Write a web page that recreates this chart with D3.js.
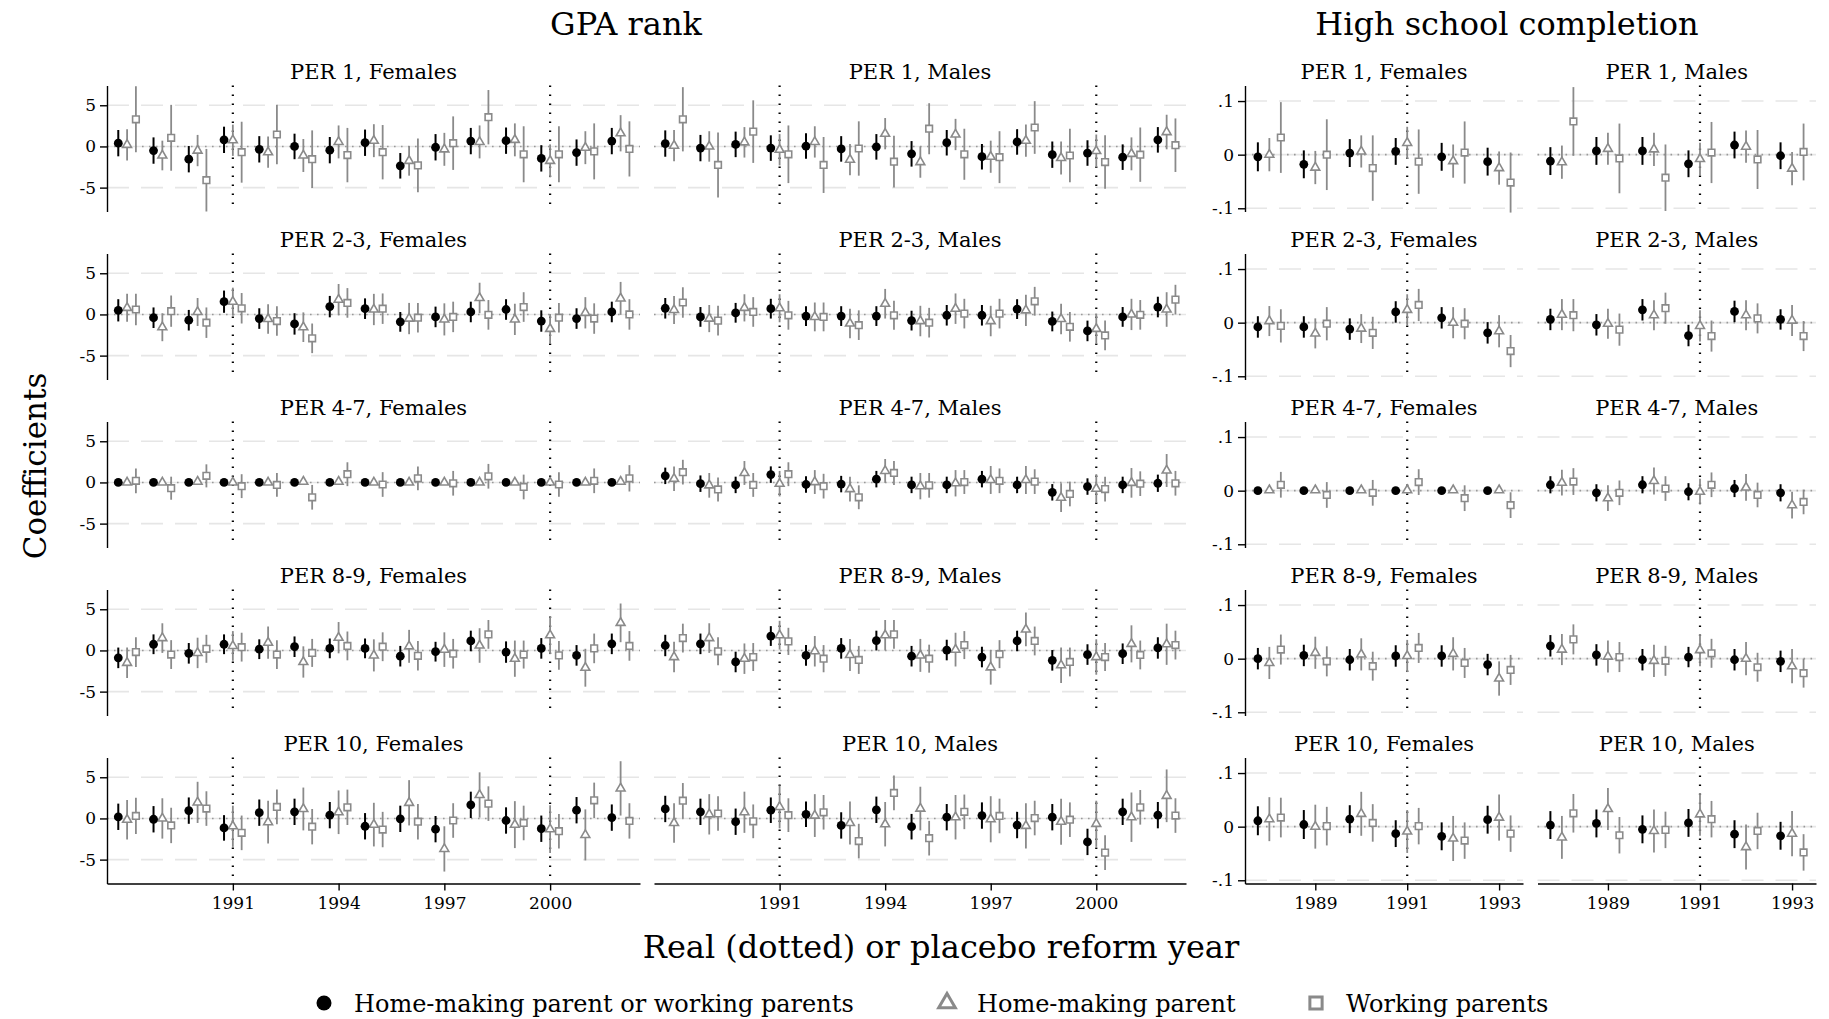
<!DOCTYPE html>
<html>
<head>
<meta charset="utf-8">
<script src="https://cdn.jsdelivr.net/npm/d3@7"></script>
<style>
    body { margin: 0; background: #fff; }
    text { font-family: "DejaVu Serif", serif; fill: #000; }
</style>
</head>
<body>
<div id="chart"></div>
<script>
// ---- categories / ticks ----
var groups = ["PER 1", "PER 2-3", "PER 4-7", "PER 8-9", "PER 10"];
var sexes = ["Females", "Males"];
var seriesNames = ["Home-making parent or working parents", "Home-making parent", "Working parents"];
var gpaYears = [1988, 1989, 1990, 1991, 1992, 1993, 1994, 1995, 1996, 1997, 1998, 1999, 2000, 2001, 2002];
var hsYears = [1988, 1989, 1990, 1991, 1992, 1993];
var gpaXTicks = [1991, 1994, 1997, 2000];
var hsXTicks = [1989, 1991, 1993];
var gpaReforms = [1991, 2000];
var hsReforms = [1991];
var gpaYTicks = [-5, 0, 5];
var hsYTicks = [-0.1, 0, 0.1];

// ---- GPA rank: estimates and CI half-widths, rows = [both, home-making, working] ----
var gpa_per1_f_est = [
    [0.4, -0.5, -1.55, 0.8, -0.35, 0, -0.45, 0.45, -2.35, -0.1, 0.65, 0.7, -1.45, -0.75, 0.65],
    [0.2, -1.1, -0.5, 0.75, -0.7, -1.1, 0.55, 0.7, -1.75, -0.35, 0.55, 0.8, -1.75, -0.15, 1.6],
    [3.3, 1.05, -4.1, -0.7, 1.45, -1.55, -1.05, -0.7, -2.3, 0.4, 3.55, -0.95, -0.95, -0.6, -0.3]];
var gpa_per1_f_ci = [
    [1.6, 1.6, 1.6, 1.6, 1.6, 1.55, 1.6, 1.6, 1.55, 1.6, 1.6, 1.6, 1.6, 1.6, 1.6],
    [1.9, 1.8, 1.9, 1.9, 1.9, 2.0, 2.0, 2.0, 1.8, 2.0, 2.0, 2.0, 2.0, 2.0, 2.2],
    [4.0, 4.0, 3.8, 3.7, 3.6, 3.5, 3.3, 3.3, 3.25, 3.25, 3.3, 3.4, 3.4, 3.4, 3.35]];
var gpa_per1_m_est = [
    [0.35, -0.2, 0.25, -0.2, 0.05, -0.3, -0.05, -0.9, 0.45, -1.25, 0.55, -1.0, -0.8, -1.3, 0.8],
    [0.1, 0, 0.5, -0.4, 0.55, -1.6, 1.55, -1.9, 1.45, -1.25, 0.7, -1.4, -0.55, -0.9, 1.75],
    [3.3, -2.25, 1.8, -0.95, -2.25, -0.25, -1.85, 2.15, -0.95, -1.3, 2.3, -1.1, -1.9, -1.0, 0.15]];
var gpa_per1_m_ci = [
    [1.6, 1.6, 1.55, 1.55, 1.55, 1.55, 1.55, 1.55, 1.55, 1.55, 1.55, 1.6, 1.55, 1.55, 1.55],
    [1.9, 1.85, 1.85, 1.9, 1.9, 1.9, 1.9, 1.9, 1.9, 1.95, 1.95, 2.0, 2.0, 2.0, 2.1],
    [3.9, 3.95, 3.8, 3.5, 3.4, 3.3, 3.15, 3.1, 3.1, 3.15, 3.2, 3.25, 3.25, 3.3, 3.25]];
var gpa_per23_f_est = [
    [0.5, -0.4, -0.7, 1.55, -0.5, -1.15, 0.95, 0.7, -0.9, -0.3, 0.3, 0.6, -0.8, -0.5, 0.3],
    [0.8, -1.55, 0.3, 1.55, -0.55, -1.55, 1.8, 0.6, -0.5, -0.6, 2.0, -0.6, -1.75, 0.2, 1.95],
    [0.6, 0.4, -1.0, 0.75, -0.8, -2.9, 1.4, 0.7, -0.4, -0.3, -0.05, 0.9, -0.4, -0.5, 0]];
var gpa_per23_f_ci = [
    [1.35, 1.25, 1.25, 1.35, 1.25, 1.3, 1.3, 1.25, 1.2, 1.25, 1.25, 1.25, 1.3, 1.25, 1.25],
    [1.7, 1.7, 1.7, 1.7, 1.8, 1.8, 1.9, 1.9, 1.9, 1.95, 1.85, 1.9, 1.8, 1.9, 2.0],
    [1.9, 1.9, 1.85, 1.85, 1.8, 1.8, 1.8, 1.85, 1.8, 1.85, 1.8, 1.8, 1.8, 1.85, 1.85]];
var gpa_per23_m_est = [
    [0.75, -0.3, 0.2, 0.7, -0.2, -0.2, -0.2, -0.75, -0.1, -0.1, 0.65, -0.85, -2.0, -0.3, 0.9],
    [0.55, -0.5, 0.8, 0.75, -0.3, -1.1, 1.3, -0.8, 0.7, -0.8, 0.5, -0.55, -1.75, 0, 0.6],
    [1.45, -0.75, 0.3, -0.1, -0.3, -1.3, -0.1, -1.0, 0.1, 0.1, 1.6, -1.5, -2.55, -0.05, 1.8]];
var gpa_per23_m_ci = [
    [1.25, 1.2, 1.2, 1.2, 1.2, 1.2, 1.2, 1.2, 1.25, 1.25, 1.2, 1.2, 1.25, 1.2, 1.25],
    [1.7, 1.65, 1.65, 1.7, 1.75, 1.8, 1.8, 1.85, 1.85, 1.85, 1.9, 1.85, 1.85, 1.9, 2.1],
    [1.85, 1.8, 1.8, 1.75, 1.75, 1.8, 1.75, 1.8, 1.8, 1.8, 1.75, 1.8, 1.8, 1.8, 1.8]];
var gpa_per47_f_est = [
    [0, 0, 0, 0, 0, 0, 0, 0, 0, 0, 0, 0, 0, 0, 0],
    [0, 0, 0.1, 0, 0, 0.1, 0.1, 0, 0, 0, 0, 0, 0, 0, 0.1],
    [0.2, -0.7, 0.8, -0.45, -0.3, -1.8, 1.0, -0.25, 0.5, -0.1, 0.75, -0.55, -0.25, 0.2, 0.5]];
var gpa_per47_f_ci = [
    [0.06, 0.06, 0.06, 0.06, 0.06, 0.06, 0.06, 0.06, 0.06, 0.06, 0.06, 0.06, 0.06, 0.06, 0.06],
    [0.15, 0.15, 0.15, 0.15, 0.15, 0.15, 0.15, 0.15, 0.15, 0.15, 0.15, 0.15, 0.15, 0.15, 0.15],
    [1.5, 1.4, 1.4, 1.45, 1.45, 1.5, 1.45, 1.5, 1.45, 1.5, 1.5, 1.5, 1.5, 1.5, 1.6]];
var gpa_per47_m_est = [
    [0.8, -0.15, -0.3, 0.95, -0.25, -0.2, 0.4, -0.3, -0.3, 0.4, -0.3, -1.2, -0.5, -0.3, -0.1],
    [0.45, -0.35, 1.15, -0.15, 0.05, -0.8, 1.4, -0.45, -0.1, 0.3, 0.3, -1.85, -0.75, -0.05, 1.45],
    [1.25, -0.85, -0.3, 1.0, -0.45, -1.8, 1.15, -0.35, 0.05, 0.2, 0.1, -1.4, -0.8, -0.15, -0.1]];
var gpa_per47_m_ci = [
    [1.0, 1.0, 1.0, 1.0, 1.0, 1.0, 1.0, 1.0, 1.0, 1.0, 1.0, 1.0, 1.0, 1.0, 1.05],
    [1.5, 1.5, 1.45, 1.55, 1.45, 1.5, 1.45, 1.6, 1.6, 1.7, 1.7, 1.75, 1.75, 1.8, 2.0],
    [1.5, 1.45, 1.45, 1.45, 1.5, 1.45, 1.45, 1.5, 1.45, 1.5, 1.5, 1.5, 1.5, 1.5, 1.5]];
var gpa_per89_f_est = [
    [-0.9, 0.75, -0.35, 0.75, 0.15, 0.45, 0.25, 0.25, -0.7, -0.15, 1.15, -0.2, 0.25, -0.6, 0.8],
    [-1.5, 1.5, -0.3, 0.55, 0.95, -1.4, 1.55, -0.6, 0.5, 0.1, 0.6, -1.0, 1.85, -2.1, 3.35],
    [-0.2, -0.5, 0.2, 0.4, -0.5, -0.3, 0.55, 0.45, -0.65, -0.4, 1.95, -0.5, -0.6, 0.25, 0.55]];
var gpa_per89_f_ci = [
    [1.25, 1.2, 1.25, 1.2, 1.2, 1.25, 1.2, 1.2, 1.25, 1.2, 1.25, 1.3, 1.25, 1.25, 1.25],
    [1.85, 1.8, 1.85, 1.8, 1.95, 1.9, 1.9, 1.95, 2.0, 2.1, 2.1, 2.2, 2.3, 2.3, 2.35],
    [1.8, 1.75, 1.7, 1.75, 1.75, 1.7, 1.75, 1.75, 1.8, 1.8, 1.75, 1.7, 1.75, 1.8, 1.8]];
var gpa_per89_m_est = [
    [0.6, 0.8, -1.4, 1.75, -0.6, 0.25, 1.2, -0.7, 0.05, -0.8, 1.15, -1.2, -0.5, -0.4, 0.3],
    [-0.8, 1.5, -1.0, 1.85, -0.1, -0.55, 1.85, -0.6, 0.1, -2.05, 2.55, -1.8, -0.8, 0.8, 0.75],
    [1.5, -0.1, -0.8, 1.1, -1.0, -1.15, 1.95, -1.0, 0.65, -0.45, 1.15, -1.4, -0.8, -0.55, 0.65]];
var gpa_per89_m_ci = [
    [1.3, 1.25, 1.25, 1.2, 1.25, 1.25, 1.2, 1.25, 1.25, 1.25, 1.25, 1.25, 1.25, 1.25, 1.3],
    [1.85, 1.8, 1.85, 1.75, 1.85, 1.95, 1.85, 2.0, 2.05, 2.1, 2.05, 2.15, 2.15, 2.25, 2.5],
    [1.75, 1.7, 1.7, 1.65, 1.65, 1.7, 1.75, 1.7, 1.7, 1.7, 1.75, 1.75, 1.7, 1.75, 1.75]];
var gpa_per10_f_est = [
    [0.2, -0.1, 0.95, -1.15, 0.7, 0.8, 0.4, -0.95, -0.05, -1.3, 1.65, -0.25, -1.25, 1.0, 0.1],
    [-0.15, 0, 1.95, -0.95, -0.45, 1.15, 0.75, -0.75, 1.9, -3.7, 2.85, -0.75, -1.3, -2.0, 3.65],
    [0.3, -0.85, 1.2, -1.75, 1.4, -1.0, 1.35, -1.35, -0.4, -0.25, 1.8, -0.55, -1.55, 2.2, -0.3]];
var gpa_per10_f_ci = [
    [1.6, 1.6, 1.6, 1.55, 1.6, 1.6, 1.6, 1.6, 1.6, 1.6, 1.6, 1.6, 1.6, 1.6, 1.6],
    [2.4, 2.45, 2.5, 2.5, 2.6, 2.6, 2.65, 2.65, 2.75, 2.75, 2.75, 2.85, 2.9, 3.1, 3.3],
    [2.2, 2.15, 2.1, 2.1, 2.1, 2.15, 2.15, 2.15, 2.15, 2.1, 2.1, 2.1, 2.1, 2.15, 2.15]];
var gpa_per10_m_est = [
    [1.15, 0.8, -0.4, 1.0, 0.5, -0.85, 1.05, -1.0, 0.15, 0.35, -0.8, 0.15, -2.85, 0.8, 0.4],
    [-0.55, 0.5, 0.75, 1.4, 0.35, -0.55, -0.7, 1.2, 0.15, -0.1, -0.9, -0.4, -0.65, 0.15, 2.75],
    [2.15, 0.6, -0.35, 0.4, 0.75, -2.75, 3.1, -2.4, 0.8, 0.3, 0.05, -0.15, -4.15, 1.35, 0.35]];
var gpa_per10_m_ci = [
    [1.6, 1.6, 1.6, 1.55, 1.55, 1.6, 1.6, 1.55, 1.6, 1.6, 1.6, 1.6, 1.6, 1.6, 1.6],
    [2.4, 2.45, 2.5, 2.6, 2.6, 2.6, 2.7, 2.65, 2.7, 2.8, 2.75, 2.8, 2.8, 3.0, 3.2],
    [2.15, 2.1, 2.05, 2.05, 2.1, 2.1, 2.1, 2.1, 2.1, 2.1, 2.1, 2.1, 2.1, 2.1, 2.1]];

// ---- High school completion ----
var hs_per1_f_est = [
    [-0.004, -0.018, 0.003, 0.006, -0.004, -0.013],
    [0, -0.024, 0.006, 0.022, -0.012, -0.025],
    [0.032, 0, -0.025, -0.013, 0.004, -0.052]];
var hs_per1_f_ci = [
    [0.027, 0.026, 0.026, 0.025, 0.026, 0.026],
    [0.031, 0.031, 0.03, 0.03, 0.031, 0.031],
    [0.066, 0.066, 0.061, 0.06, 0.058, 0.056]];
var hs_per1_m_est = [
    [-0.012, 0.007, 0.007, -0.017, 0.018, -0.002],
    [-0.014, 0.011, 0.01, -0.008, 0.015, -0.026],
    [0.062, -0.007, -0.043, 0.004, -0.009, 0.005]];
var hs_per1_m_ci = [
    [0.026, 0.026, 0.026, 0.025, 0.025, 0.025],
    [0.031, 0.03, 0.031, 0.03, 0.03, 0.031],
    [0.064, 0.065, 0.062, 0.057, 0.055, 0.053]];
var hs_per23_f_est = [
    [-0.008, -0.008, -0.012, 0.02, 0.009, -0.019],
    [0.003, -0.02, -0.011, 0.024, 0, -0.016],
    [-0.006, -0.002, -0.019, 0.033, -0.002, -0.053]];
var hs_per23_f_ci = [
    [0.02, 0.02, 0.02, 0.02, 0.02, 0.02],
    [0.028, 0.028, 0.027, 0.029, 0.029, 0.03],
    [0.031, 0.031, 0.03, 0.03, 0.029, 0.03]];
var hs_per23_m_est = [
    [0.006, -0.004, 0.024, -0.024, 0.021, 0.006],
    [0.015, -0.002, 0.014, -0.006, 0.014, 0.004],
    [0.014, -0.013, 0.027, -0.025, 0.008, -0.025]];
var hs_per23_m_ci = [
    [0.02, 0.02, 0.02, 0.02, 0.02, 0.019],
    [0.029, 0.028, 0.028, 0.029, 0.028, 0.029],
    [0.03, 0.03, 0.029, 0.029, 0.028, 0.028]];
var hs_per47_f_est = [
    [0, 0, 0, 0, 0, 0],
    [0.001, 0.001, 0.001, 0.001, 0.001, 0.001],
    [0.011, -0.008, -0.004, 0.016, -0.014, -0.027]];
var hs_per47_f_ci = [
    [0.001, 0.001, 0.001, 0.001, 0.001, 0.001],
    [0.002, 0.002, 0.002, 0.002, 0.002, 0.002],
    [0.024, 0.024, 0.024, 0.024, 0.024, 0.024]];
var hs_per47_m_est = [
    [0.011, -0.004, 0.011, -0.002, 0.004, -0.004],
    [0.015, -0.014, 0.018, -0.002, 0.006, -0.027],
    [0.017, -0.004, 0.004, 0.011, -0.008, -0.021]];
var hs_per47_m_ci = [
    [0.016, 0.016, 0.016, 0.016, 0.016, 0.016],
    [0.024, 0.024, 0.025, 0.024, 0.025, 0.025],
    [0.025, 0.023, 0.023, 0.023, 0.023, 0.023]];
var hs_per89_f_est = [
    [0, 0.006, -0.002, 0.005, 0.005, -0.011],
    [-0.008, 0.011, 0.008, 0.005, 0.009, -0.037],
    [0.017, -0.005, -0.014, 0.02, -0.008, -0.021]];
var hs_per89_f_ci = [
    [0.02, 0.02, 0.02, 0.02, 0.02, 0.02],
    [0.03, 0.03, 0.03, 0.03, 0.031, 0.032],
    [0.028, 0.028, 0.027, 0.028, 0.028, 0.028]];
var hs_per89_m_est = [
    [0.024, 0.007, -0.002, 0.003, -0.002, -0.005],
    [0.017, 0.004, -0.004, 0.016, 0, -0.014],
    [0.036, 0.003, -0.004, 0.01, -0.016, -0.027]];
var hs_per89_m_ci = [
    [0.02, 0.02, 0.02, 0.019, 0.02, 0.02],
    [0.029, 0.03, 0.03, 0.03, 0.031, 0.032],
    [0.028, 0.028, 0.028, 0.027, 0.027, 0.027]];
var hs_per10_f_est = [
    [0.011, 0.004, 0.014, -0.013, -0.018, 0.013],
    [0.014, 0, 0.024, -0.009, -0.022, 0.017],
    [0.017, 0.001, 0.007, 0.001, -0.026, -0.013]];
var hs_per10_f_ci = [
    [0.027, 0.027, 0.026, 0.025, 0.026, 0.026],
    [0.041, 0.041, 0.041, 0.04, 0.042, 0.043],
    [0.037, 0.036, 0.035, 0.034, 0.034, 0.034]];
var hs_per10_m_est = [
    [0.003, 0.006, -0.005, 0.007, -0.014, -0.017],
    [-0.02, 0.033, -0.008, 0.023, -0.038, -0.013],
    [0.025, -0.016, -0.006, 0.014, -0.008, -0.048]];
var hs_per10_m_ci = [
    [0.026, 0.026, 0.026, 0.026, 0.026, 0.026],
    [0.04, 0.039, 0.04, 0.04, 0.042, 0.042],
    [0.036, 0.034, 0.034, 0.034, 0.034, 0.034]];

// panels by row (group) then sex
var gpaData = [
    [[gpa_per1_f_est, gpa_per1_f_ci], [gpa_per1_m_est, gpa_per1_m_ci]],
    [[gpa_per23_f_est, gpa_per23_f_ci], [gpa_per23_m_est, gpa_per23_m_ci]],
    [[gpa_per47_f_est, gpa_per47_f_ci], [gpa_per47_m_est, gpa_per47_m_ci]],
    [[gpa_per89_f_est, gpa_per89_f_ci], [gpa_per89_m_est, gpa_per89_m_ci]],
    [[gpa_per10_f_est, gpa_per10_f_ci], [gpa_per10_m_est, gpa_per10_m_ci]]];
var hsData = [
    [[hs_per1_f_est, hs_per1_f_ci], [hs_per1_m_est, hs_per1_m_ci]],
    [[hs_per23_f_est, hs_per23_f_ci], [hs_per23_m_est, hs_per23_m_ci]],
    [[hs_per47_f_est, hs_per47_f_ci], [hs_per47_m_est, hs_per47_m_ci]],
    [[hs_per89_f_est, hs_per89_f_ci], [hs_per89_m_est, hs_per89_m_ci]],
    [[hs_per10_f_est, hs_per10_f_ci], [hs_per10_m_est, hs_per10_m_ci]]];

// ---- layout ----
var width = 1829, height = 1019;
var rowTop = 85.5, rowStep = 168, plotH = 126;
var offsets = [-0.25, 0, 0.25];
var black = "#000", grey = "#8a8a8a";

var blocks = [
    {title: "GPA rank", titleX: 626, cols: [[107, 640], [654, 1186]], xDomain: [1987.43, 2002.55],
        yDomain: [-7.9, 7.4], years: gpaYears, xTicks: gpaXTicks, reforms: gpaReforms, yTicks: gpaYTicks, data: gpaData},
    {title: "High school completion", titleX: 1507, cols: [[1245, 1523], [1537.5, 1816]], xDomain: [1987.47, 1993.52],
        yDomain: [-0.106, 0.129], years: hsYears, xTicks: hsXTicks, reforms: hsReforms, yTicks: hsYTicks, data: hsData}
];

var svg = d3.select("#chart").append("svg")
    .attr("width", width)
    .attr("height", height);

var triangle = d3.symbol().type(d3.symbolTriangle).size(34);
var square = d3.symbol().type(d3.symbolSquare).size(44);

function yFmt(d) {
    return d === 0 ? "0" : String(d).replace("0.", ".");
}

function drawPanel(g, b, r, c) {
    var x0 = b.cols[c][0], x1 = b.cols[c][1];
    var top = rowTop + r * rowStep, bottom = top + plotH;
    var est = b.data[r][c][0], ci = b.data[r][c][1];

    var x = d3.scaleLinear().domain(b.xDomain).range([x0, x1]);
    var y = d3.scaleLinear().domain(b.yDomain).range([bottom, top]);

    // grid
    g.selectAll(".grid").data(b.yTicks).enter().append("line")
        .attr("x1", x0).attr("x2", x1)
        .attr("y1", function (d) { return y(d); })
        .attr("y2", function (d) { return y(d); })
        .attr("stroke", "#e6e6e6")
        .attr("stroke-width", 1.6)
        .attr("stroke-dasharray", function (d) { return d === 0 ? null : "22,12"; });

    // zero reference line
    g.append("line")
        .attr("x1", x0).attr("x2", x1)
        .attr("y1", y(0)).attr("y2", y(0))
        .attr("stroke", "#999")
        .attr("stroke-width", 1.6)
        .attr("stroke-dasharray", "1.6,5.4");

    // reform year lines
    g.selectAll(".reform").data(b.reforms).enter().append("line")
        .attr("x1", function (d) { return x(d); })
        .attr("x2", function (d) { return x(d); })
        .attr("y1", top).attr("y2", bottom)
        .attr("stroke", "#000")
        .attr("stroke-width", 2.2)
        .attr("stroke-dasharray", "1.6,7.4");

    var pts = [];
    est.forEach(function (row, s) {
        row.forEach(function (v, i) {
            pts.push({s: s, x: b.years[i] + offsets[s], v: v, lo: v - ci[s][i], hi: v + ci[s][i]});
        });
    });

    [2, 1, 0].forEach(function (s) {
        var sp = pts.filter(function (p) { return p.s === s; });
        g.selectAll(".ci" + s).data(sp).enter().append("line")
            .attr("x1", function (d) { return x(d.x); })
            .attr("x2", function (d) { return x(d.x); })
            .attr("y1", function (d) { return y(d.lo); })
            .attr("y2", function (d) { return y(d.hi); })
            .attr("stroke", s === 0 ? black : grey)
            .attr("stroke-width", s === 0 ? 2 : 1.8);

        if (s === 0) {
            g.selectAll(".m0").data(sp).enter().append("circle")
                .attr("cx", function (d) { return x(d.x); })
                .attr("cy", function (d) { return y(d.v); })
                .attr("r", 4.4)
                .attr("fill", black);
        } else {
            g.selectAll(".m" + s).data(sp).enter().append("path")
                .attr("d", s === 1 ? triangle : square)
                .attr("transform", function (d) { return "translate(" + x(d.x) + "," + y(d.v) + ")"; })
                .attr("fill", "#fff")
                .attr("stroke", grey)
                .attr("stroke-width", 1.6);
        }
    });

    // panel title
    g.append("text")
        .attr("x", (x0 + x1) / 2)
        .attr("y", top - 6.5)
        .attr("text-anchor", "middle")
        .style("font-size", "21px")
        .text(groups[r] + ", " + sexes[c]);

    if (c === 0) {
        var ya = g.append("g")
            .attr("transform", "translate(" + x0 + ",0)")
            .call(d3.axisLeft(y).tickValues(b.yTicks).tickSize(7).tickSizeOuter(0).tickPadding(4).tickFormat(yFmt));
        styleAxis(ya);
    }
    if (r === groups.length - 1) {
        var xa = g.append("g")
            .attr("transform", "translate(0," + bottom + ")")
            .call(d3.axisBottom(x).tickValues(b.xTicks).tickSize(7).tickSizeOuter(0).tickPadding(6.5).tickFormat(d3.format("d")));
        styleAxis(xa);
    }
}

function styleAxis(a) {
    a.attr("font-family", null).attr("font-size", null);
    a.select(".domain").attr("stroke", "#000").attr("stroke-width", 1.4);
    a.selectAll(".tick line").attr("stroke", "#000").attr("stroke-width", 1.4);
    a.selectAll(".tick text").style("font-size", "17px").attr("fill", "#000");
}

blocks.forEach(function (b) {
    var g = svg.append("g");
    g.append("text")
        .attr("x", b.titleX)
        .attr("y", 35)
        .attr("text-anchor", "middle")
        .style("font-size", "32px")
        .text(b.title);
    for (var r = 0; r < groups.length; r++) {
        for (var c = 0; c < sexes.length; c++) {
            drawPanel(g.append("g"), b, r, c);
        }
    }
});

// axis titles
svg.append("text")
    .attr("transform", "translate(46,466) rotate(-90)")
    .attr("text-anchor", "middle")
    .style("font-size", "31px")
    .text("Coefficients");

svg.append("text")
    .attr("x", 941)
    .attr("y", 958)
    .attr("text-anchor", "middle")
    .style("font-size", "32px")
    .text("Real (dotted) or placebo reform year");

// legend
var legendX = [324, 947, 1316];
var legend = svg.selectAll(".legend")
    .data(seriesNames)
    .enter().append("g")
    .attr("class", "legend")
    .attr("transform", function (d, i) { return "translate(" + legendX[i] + ",1003)"; });

legend.each(function (d, i) {
    var lg = d3.select(this);
    if (i === 0) {
        lg.append("circle").attr("r", 7.5).attr("fill", black);
    } else {
        lg.append("path")
            .attr("d", d3.symbol().type(i === 1 ? d3.symbolTriangle : d3.symbolSquare).size(i === 1 ? 120 : 150))
            .attr("fill", "#fff")
            .attr("stroke", grey)
            .attr("stroke-width", 3);
    }
    lg.append("text")
        .attr("x", 30)
        .attr("y", 8.5)
        .style("font-size", "24px")
        .text(d);
});
</script>
</body>
</html>
